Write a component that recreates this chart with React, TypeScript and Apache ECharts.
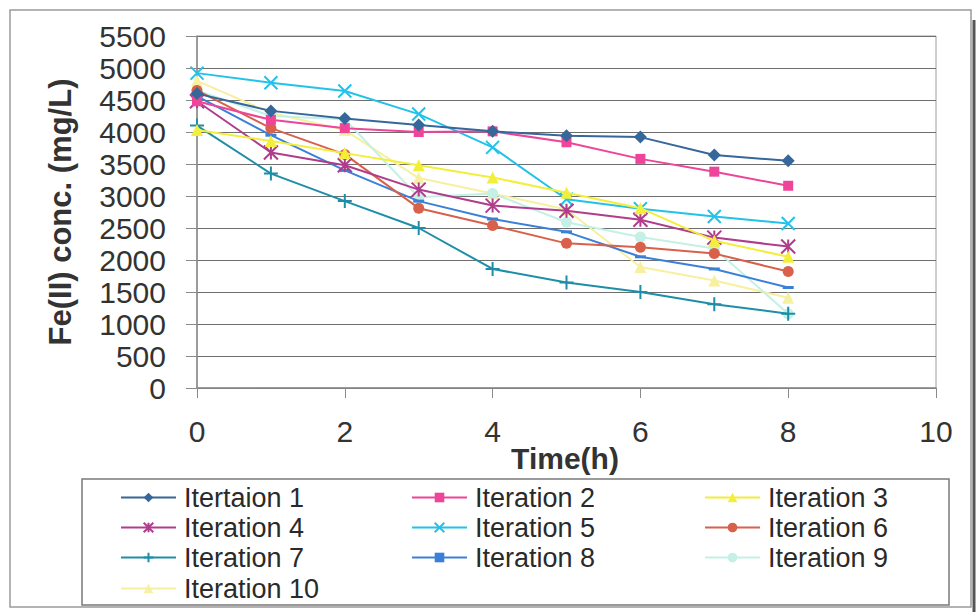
import React, { useEffect, useRef } from "react";
import * as echarts from "echarts";

const timeHours = [0, 1, 2, 3, 4, 5, 6, 7, 8];
const seriesNames = [
  "Itertaion 1",
  "Iteration 2",
  "Iteration 3",
  "Iteration 4",
  "Iteration 5",
  "Iteration 6",
  "Iteration 7",
  "Iteration 8",
  "Iteration 9",
  "Iteration 10",
];
const iter1 = [4600, 4330, 4210, 4110, 4010, 3940, 3920, 3640, 3550];
const iter2 = [4480, 4190, 4060, 4000, 4010, 3840, 3580, 3380, 3160];
const iter3 = [4030, 3860, 3670, 3480, 3290, 3050, 2810, 2300, 2050];
const iter4 = [4480, 3680, 3480, 3100, 2850, 2770, 2630, 2350, 2210];
const iter5 = [4920, 4770, 4640, 4280, 3760, 2950, 2800, 2680, 2570];
const iter6 = [4650, 4060, 3650, 2810, 2540, 2260, 2200, 2100, 1820];
const iter7 = [4100, 3350, 2920, 2500, 1860, 1650, 1500, 1310, 1160];
const iter8 = [4560, 3950, 3400, 2920, 2640, 2440, 2050, 1860, 1570];
const iter9 = [4650, 4250, 4200, 2980, 3040, 2590, 2360, 2180, 1160];
const iter10 = [4800, 4300, 4030, 3280, 3040, 2790, 1890, 1680, 1410];
const allValues = [iter1, iter2, iter3, iter4, iter5, iter6, iter7, iter8, iter9, iter10];
const yTicks = { min: 0, max: 5500, step: 500 };
const xTicks = { min: 0, max: 10, step: 2 };

const colors = [
  "#35679a",
  "#ee4499",
  "#f2ee3a",
  "#b03c8c",
  "#22c2ea",
  "#d9604a",
  "#1e8ea8",
  "#3a80d8",
  "#c4f0e6",
  "#f6f0a0",
];

const ASTERISK = "path://M0,0L10,10M10,0L0,10M5,0L5,10";
const XMARK = "path://M0,0L10,10M10,0L0,10";
const PLUS = "path://M5,0L5,10M0,5L10,5";

const symbols: any[] = [
  { symbol: "diamond", size: 13, stroke: false },
  { symbol: "rect", size: 10, stroke: false },
  { symbol: "triangle", size: 12, stroke: false },
  { symbol: ASTERISK, size: 14, stroke: true },
  { symbol: XMARK, size: 13, stroke: true },
  { symbol: "circle", size: 11, stroke: false },
  { symbol: PLUS, size: 14, stroke: true },
  { symbol: "rect", size: [11, 3], stroke: false },
  { symbol: "circle", size: 11, stroke: false },
  { symbol: "triangle", size: 12, stroke: false },
];

const legendCols = [120, 411, 704];
const legendRows = [484, 514, 544, 575];

export default function App() {
  const ref = useRef<HTMLDivElement>(null);
  useEffect(() => {
    if (!ref.current) return;
    const chart = echarts.init(ref.current, null, { renderer: "svg" });
    const series = allValues.map((vals, i) => {
      const s = symbols[i];
      return {
        name: seriesNames[i],
        type: "line",
        data: vals.map((v, k) => [timeHours[k], v]),
        symbol: s.symbol,
        symbolSize: s.size,
        showSymbol: true,
        lineStyle: { color: colors[i], width: 2 },
        itemStyle: s.stroke
          ? { color: colors[i], borderColor: colors[i], borderWidth: 2 }
          : { color: colors[i], borderWidth: 0 },
        z: 10 - i,
      };
    });
    const legends = seriesNames.map((n, i) => ({
      data: [n],
      left: legendCols[i % 3],
      top: legendRows[Math.floor(i / 3)],
      orient: "horizontal",
      selectedMode: false,
      itemWidth: 55,
      itemHeight: 12,
      itemGap: 0,
      padding: 0,
      textStyle: {
        fontSize: 27,
        lineHeight: 26,
        color: "#2a2a2a",
        fontFamily: "'Liberation Sans Narrow', 'Arial Narrow', 'Liberation Sans', sans-serif",
        padding: [0, 0, 0, 3],
      },
    }));
    chart.setOption({
      animation: false,
      backgroundColor: "#ffffff",
      grid: {
        left: 197,
        right: 40,
        top: 36,
        bottom: 224,
        show: true,
        borderColor: "#9aa0a6",
        borderWidth: 1,
      },
      xAxis: {
        type: "value",
        min: xTicks.min,
        max: xTicks.max,
        interval: xTicks.step,
        axisLine: { show: true, lineStyle: { color: "#8a8a8a", width: 1.5 } },
        axisTick: { show: true, inside: false, length: 10, lineStyle: { color: "#8a8a8a" } },
        splitLine: { show: false },
        axisLabel: {
          fontSize: 30,
          color: "#333",
          fontFamily: "'Liberation Sans', Arial, sans-serif",
          margin: 28,
          formatter: (v: number) => String(v),
        },
      },
      yAxis: {
        type: "value",
        min: yTicks.min,
        max: yTicks.max,
        interval: yTicks.step,
        axisLine: { show: true, lineStyle: { color: "#8a8a8a", width: 1.5 } },
        axisTick: { show: true, inside: false, length: 11, lineStyle: { color: "#8a8a8a" } },
        splitLine: { show: true, lineStyle: { color: "#6e6e6e", width: 1 } },
        axisLabel: {
          fontSize: 30,
          color: "#333",
          fontFamily: "'Liberation Sans', Arial, sans-serif",
          margin: 31,
          formatter: (v: number) => String(v),
        },
      },
      legend: legends,
      series,
      graphic: [
        {
          type: "rect",
          shape: { x: 10, y: 10, width: 961, height: 597 },
          style: { fill: "none", stroke: "#9a9a9a", lineWidth: 1.5 },
          silent: true,
        },
        {
          type: "line",
          shape: { x1: 974, y1: 20, x2: 974, y2: 612 },
          style: { stroke: "#555", lineWidth: 3 },
          silent: true,
        },
        {
          type: "rect",
          shape: { x: 82, y: 479, width: 867, height: 126 },
          style: { fill: "none", stroke: "#7a7a7a", lineWidth: 1.5 },
          silent: true,
        },
        {
          type: "text",
          x: 565,
          y: 458,
          style: {
            text: "Time(h)",
            font: "bold 30px 'Liberation Sans', Arial, sans-serif",
            fill: "#333",
            align: "center",
            verticalAlign: "middle",
          },
        },
        {
          type: "text",
          x: 60,
          y: 212,
          rotation: Math.PI / 2,
          style: {
            text: "Fe(II) conc. (mg/L)",
            font: "bold 31px 'Liberation Sans', Arial, sans-serif",
            fill: "#333",
            align: "center",
            verticalAlign: "middle",
          },
        },
      ],
    });
    return () => chart.dispose();
  }, []);
  return <div ref={ref} style={{ width: 976, height: 612, position: "absolute", left: 0, top: 0 }} />;
}
